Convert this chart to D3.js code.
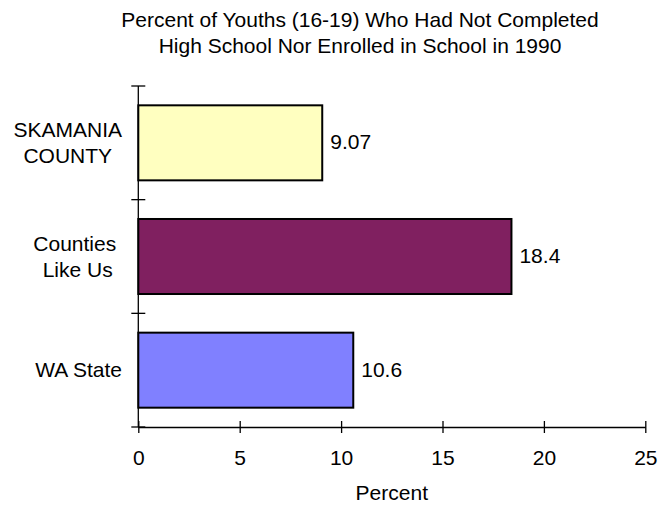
<!DOCTYPE html>
<html>
<head>
<meta charset="utf-8">
<script src="https://cdn.jsdelivr.net/npm/d3@7"></script>
<style>
  body { margin: 0; background: #fff; }
  text { font-family: "Liberation Sans", Arial, sans-serif; fill: #000; white-space: pre; }
</style>
</head>
<body>
<div id="chart"></div>
<script>
// data
var categories = [["SKAMANIA", "COUNTY"], ["Counties ", "Like Us"], ["WA State"]]
var values = [9.07, 18.4, 10.6]
var valueLabels = ["9.07", "18.4", "10.6"]
var barColors = ["#ffffc0", "#802060", "#8080ff"]
var xTicks = [0, 5, 10, 15, 20, 25]
var titleLines = ["Percent of Youths (16-19) Who Had Not Completed", "High School Nor Enrolled in School in 1990"]

var width = 660,
    height = 505
var plotLeft = 138.3, plotRight = 645.3, plotTop = 86, plotBottom = 427
var fontSize = "21px"

var svg = d3.select("#chart").append("svg")
    .attr("width", width)
    .attr("height", height)

var x = d3.scaleLinear().domain([0, 25]).range([plotLeft, plotRight])
var ids = categories.map(function(d, i) { return "c" + i })
var y = d3.scaleBand().domain(ids).range([plotTop, plotBottom])
    .paddingInner(0.34).paddingOuter(0.17)

// title
svg.append("g").selectAll("text")
  .data(titleLines)
  .enter().append("text")
    .attr("x", 360)
    .attr("y", function(d, i) { return 27 + i * 25.5 })
    .attr("text-anchor", "middle")
    .style("font-size", fontSize)
    .text(function(d) { return d })

// bars
svg.selectAll("rect.bar")
  .data(values)
  .enter().append("rect")
    .attr("class", "bar")
    .attr("x", x(0))
    .attr("y", function(d, i) { return y(ids[i]) })
    .attr("width", function(d) { return x(d) - x(0) })
    .attr("height", y.bandwidth())
    .attr("fill", function(d, i) { return barColors[i] })
    .attr("stroke", "#000")
    .attr("stroke-width", 2)

// value labels
svg.selectAll("text.val")
  .data(values)
  .enter().append("text")
    .attr("class", "val")
    .attr("x", function(d) { return x(d) + 8 })
    .attr("y", function(d, i) { return y(ids[i]) + y.bandwidth() / 2 + 6.5 })
    .style("font-size", fontSize)
    .text(function(d, i) { return valueLabels[i] })

// x axis, ticks cross the line
var xAxis = svg.append("g")
    .attr("transform", "translate(0," + plotBottom + ")")
    .call(d3.axisBottom(x).tickValues(xTicks).tickSize(6).tickSizeOuter(0).tickPadding(17))
xAxis.select(".domain").attr("stroke", "#000").attr("stroke-width", 1.3)
xAxis.selectAll(".tick line").attr("y1", -6).attr("stroke", "#000").attr("stroke-width", 1.3)
xAxis.selectAll(".tick text")
    .style("font-size", fontSize)
    .style("font-family", "'Liberation Sans', Arial, sans-serif")
    .attr("fill", "#000")

svg.append("text")
    .attr("x", (plotLeft + plotRight) / 2)
    .attr("y", 499.5)
    .attr("text-anchor", "middle")
    .style("font-size", fontSize)
    .text("Percent")

// y axis: ticks sit on the band boundaries
var bounds = ids.map(function(id) { return y(id) - y.step() * y.paddingInner() / 2 })
bounds[0] = plotTop
bounds.push(plotBottom)
svg.append("line")
    .attr("x1", plotLeft).attr("x2", plotLeft)
    .attr("y1", plotTop).attr("y2", plotBottom)
    .attr("stroke", "#000").attr("stroke-width", 1.3)
svg.selectAll("line.ytick")
  .data(bounds)
  .enter().append("line")
    .attr("class", "ytick")
    .attr("x1", plotLeft - 7).attr("x2", plotLeft + 7)
    .attr("y1", function(d) { return d }).attr("y2", function(d) { return d })
    .attr("stroke", "#000").attr("stroke-width", 1.3)

// category labels: block right aligned, lines centred in the block
var labelRight = 122
categories.forEach(function(lines, i) {
  var g = svg.append("g")
  var cy = y(ids[i]) + y.bandwidth() / 2
  var texts = g.selectAll("text")
    .data(lines)
    .enter().append("text")
      .attr("y", function(d, j) { return cy + (j - (lines.length - 1) / 2) * 26 + 7 })
      .attr("text-anchor", "middle")
      .style("font-size", fontSize)
      .text(function(d) { return d })
  var w = 0
  texts.each(function() { w = Math.max(w, this.getComputedTextLength()) })
  texts.attr("x", labelRight - w / 2)
})
</script>
</body>
</html>
